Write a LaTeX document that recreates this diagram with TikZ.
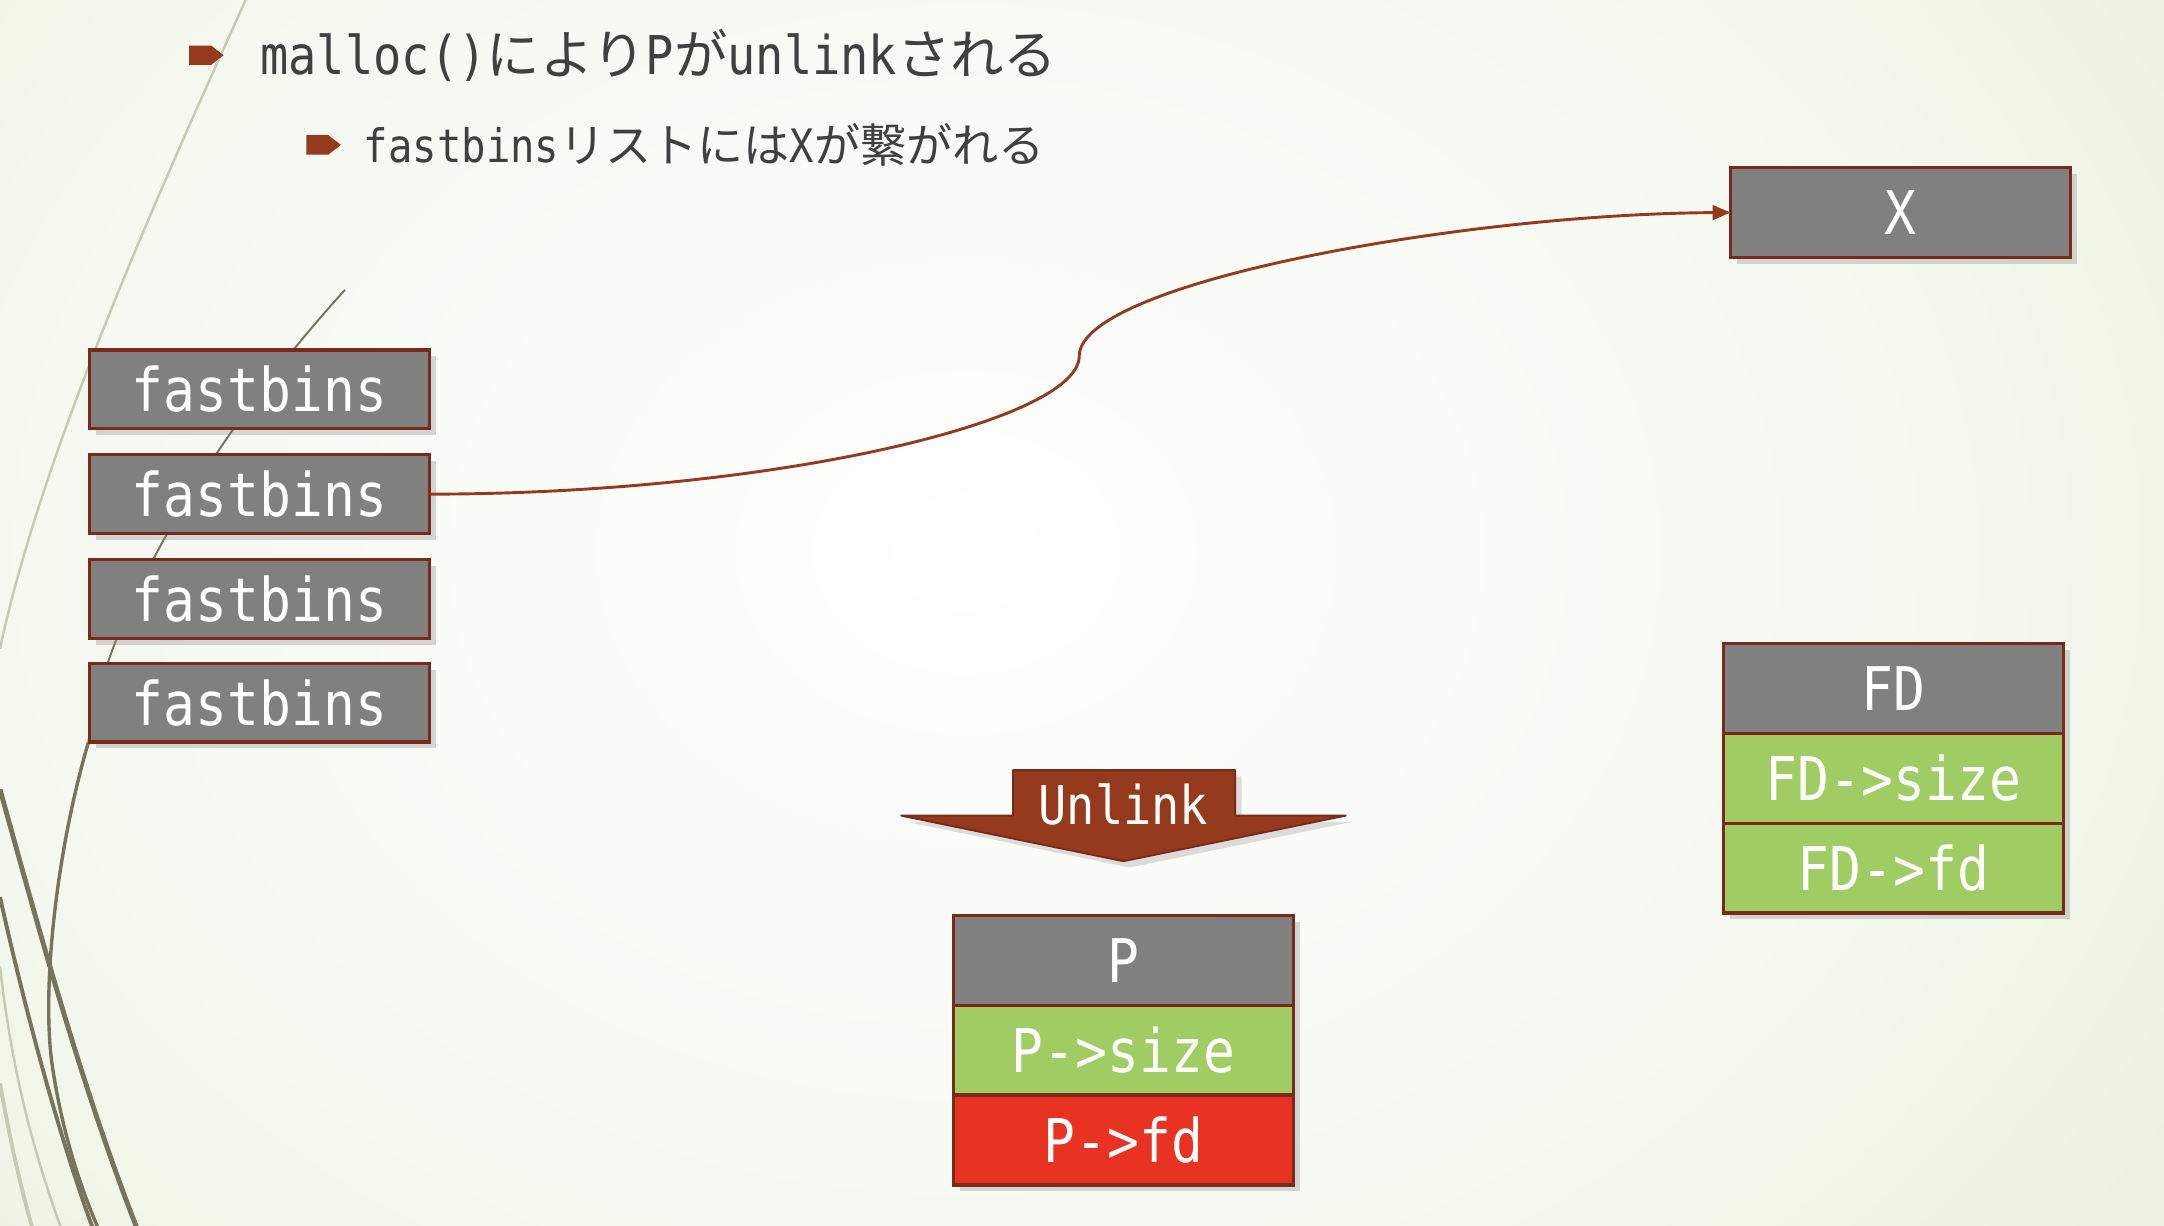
\documentclass[tikz,border=0pt]{standalone}
\usepackage{fontspec}
\usepackage{xcolor}
\usepackage{tikz}
\usetikzlibrary{positioning,shadows,arrows.meta}
\newfontfamily\monofont[FakeStretch=0.88]{DejaVu Sans Mono}
\newfontfamily\cjk{Noto Sans CJK JP}
\definecolor{bgpale}{HTML}{DCE7C4}
\definecolor{rim}{HTML}{7A2A1A}
\definecolor{rust}{HTML}{963A1E}
\definecolor{cellgray}{HTML}{808080}
\definecolor{cellgreen}{HTML}{A0CC64}
\definecolor{cellred}{HTML}{E83323}
\definecolor{wisp}{HTML}{77735C}
\definecolor{wisplight}{HTML}{C6CAB4}
\definecolor{ink}{HTML}{404040}
\pgfdeclareradialshading{slideglow}{\pgfpoint{0bp}{0bp}}{%
  rgb(0bp)=(1,1,1); rgb(18bp)=(0.96,0.975,0.94); rgb(36bp)=(0.89,0.925,0.82); rgb(50bp)=(0.86,0.905,0.77)}
\tikzset{
  cell/.style={draw=rim, line width=0.7pt, text=white, inner sep=0pt, outer sep=0pt,
    font=\monofont\fontsize{12.4}{14}\selectfont,
    minimum width=2.46cm, minimum height=0.65cm,
    drop shadow={shadow xshift=1.3pt, shadow yshift=-1.3pt, opacity=0.3}},
  bin/.style={cell, fill=cellgray, minimum height=0.57cm},
  headtxt/.style={inner sep=0pt, anchor=west, text=ink},
  link/.style={draw=rust, line width=0.6pt, -{Triangle[length=3.7pt,width=3pt]}}
}
\newcommand{\jp}[1]{{\cjk #1}}
\newcommand{\BulletAt}[1]{%
  \fill[rust] (#1) ++(0,-7) -- ++(16,0) -- ++(9,7) -- ++(-9,7) -- ++(-16,0) -- cycle;
}

\begin{document}
\begin{tikzpicture}[x=0.01cm, y=-0.01cm]
  \useasboundingbox (0,0) rectangle (1568,888);
  \clip (0,0) rectangle (1568,888);
  \fill[bgpale] (0,0) rectangle (1568,888);
  \shade[shading=slideglow] (-250,-350) rectangle (1650,1150);

  % wisps on the left edge
  \draw[wisplight, line width=0.5pt] (178,0) .. controls (110,150) and (30,330) .. (0,470);
  \draw[wisp, line width=0.4pt] (250,210) .. controls (150,320) and (75,450) .. (64,538);
  \draw[wisp, line width=0.7pt] (64,538) .. controls (40,620) and (30,720) .. (38,773)
    .. controls (45,820) and (58,860) .. (72,892);
  \draw[wisp, line width=1pt] (0,572) .. controls (30,680) and (60,790) .. (100,892);
  \draw[wisp, line width=0.8pt] (0,650) .. controls (20,740) and (45,830) .. (68,892);
  \draw[wisplight, line width=0.8pt] (0,785) .. controls (8,830) and (15,860) .. (24,892);
  \draw[wisplight, line width=0.5pt] (0,700) .. controls (10,790) and (30,850) .. (45,892);

  \BulletAt{137,40}
  \node[headtxt, font=\monofont\fontsize{11}{13}\selectfont] (title) at (188,40)
    {malloc()\jp{により}P\jp{が}unlink\jp{される}};
  \BulletAt{222,105}
  \node[headtxt, font=\monofont\fontsize{9.5}{11}\selectfont] (subtitle) at (263,105)
    {fastbins\jp{リストには}X\jp{が繋がれる}};

  \node[bin] (fb1) at (188,282) {fastbins};
  \node[bin, below=0.19cm of fb1] (fb2) {fastbins};
  \node[bin, below=0.19cm of fb2] (fb3) {fastbins};
  \node[bin, below=0.18cm of fb3] (fb4) {fastbins};

  \node[cell, fill=cellgray] (X) at (1377,154) {X};

  \node[cell, fill=cellgray] (FD) at (1372,499) {FD};
  \node[cell, fill=cellgreen, below=0pt of FD] (FDsize) {FD->size};
  \node[cell, fill=cellgreen, below=0pt of FDsize] (FDfd) {FD->fd};

  \node[cell, fill=cellgray] (P) at (814,696) {P};
  \node[cell, fill=cellgreen, below=0pt of P] (Psize) {P->size};
  \node[cell, fill=cellred, below=0pt of Psize] (Pfd) {P->fd};

  % unlink arrow
  \filldraw[fill=rust, draw=rim, line width=0.4pt, line join=round,
    drop shadow={shadow xshift=1.3pt, shadow yshift=-1.3pt, opacity=0.25}]
    (734,558) -- (895,558) -- (895,591) -- (975,591) -- (814,624) -- (653,591) -- (734,591) -- cycle;
  \node[text=white, font=\monofont\fontsize{11}{13}\selectfont] (unlink) at (814,583) {Unlink};

  \coordinate (bend) at (782,258);
  \draw[link] (fb2.east) .. controls (560,358) and (782,305) .. (bend)
    .. controls (782,205) and (1060,155) .. (X.west);
\end{tikzpicture}
\end{document}
